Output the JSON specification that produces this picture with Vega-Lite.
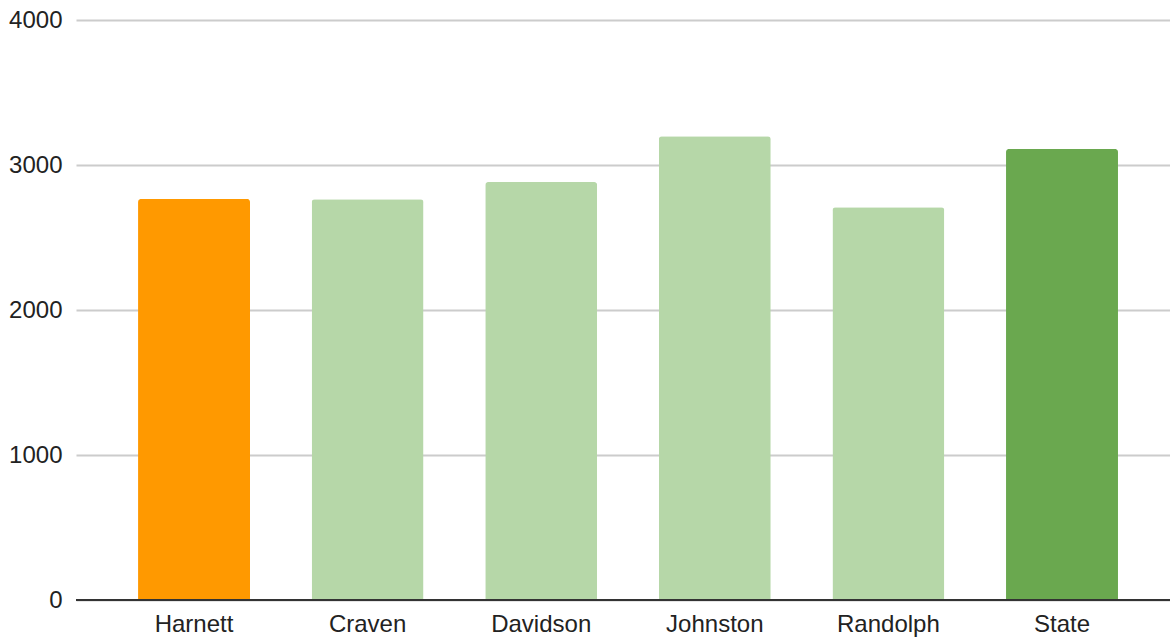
{
  "$schema": "https://vega.github.io/schema/vega-lite/v6.json",
  "width": 1094,
  "height": 580,
  "autosize": {"type": "none"},
  "padding": {"left": 76, "top": 20, "right": 0, "bottom": 38},
  "background": "white",
  "config": {
    "view": {"stroke": null},
    "font": "Liberation Sans"
  },
  "data": {
    "values": [
      {"county": "Harnett", "value": 2766, "group": "Harnett"},
      {"county": "Craven", "value": 2764, "group": "Peer"},
      {"county": "Davidson", "value": 2882, "group": "Peer"},
      {"county": "Johnston", "value": 3199, "group": "Peer"},
      {"county": "Randolph", "value": 2709, "group": "Peer"},
      {"county": "State", "value": 3111, "group": "State"}
    ]
  },
  "layer": [
    {
      "mark": {"type": "bar", "cornerRadiusTopLeft": 3, "cornerRadiusTopRight": 3},
      "encoding": {
        "x": {
          "field": "county",
          "type": "nominal",
          "sort": null,
          "title": null,
          "scale": {"paddingInner": 0.355, "paddingOuter": 0.3285, "align": 0.544},
          "axis": {
            "labelAngle": 0,
            "labelFontSize": 24,
            "labelColor": "#222222",
            "labelPadding": 12,
            "domain": false,
            "ticks": false,
            "grid": false
          }
        },
        "y": {
          "field": "value",
          "type": "quantitative",
          "title": null,
          "scale": {"domain": [0, 4000], "nice": false},
          "axis": {
            "values": [0, 1000, 2000, 3000, 4000],
            "format": "d",
            "labelFontSize": 24,
            "labelColor": "#222222",
            "labelPadding": 14,
            "domain": false,
            "ticks": false,
            "gridColor": "#cccccc",
            "gridWidth": 2
          }
        },
        "color": {
          "field": "group",
          "type": "nominal",
          "scale": {"domain": ["Harnett", "Peer", "State"], "range": ["#ff9900", "#b6d7a8", "#6aa84f"]},
          "legend": null
        }
      }
    },
    {
      "mark": {"type": "rule", "color": "#333333", "strokeWidth": 2},
      "encoding": {"y": {"datum": 0}}
    }
  ]
}
